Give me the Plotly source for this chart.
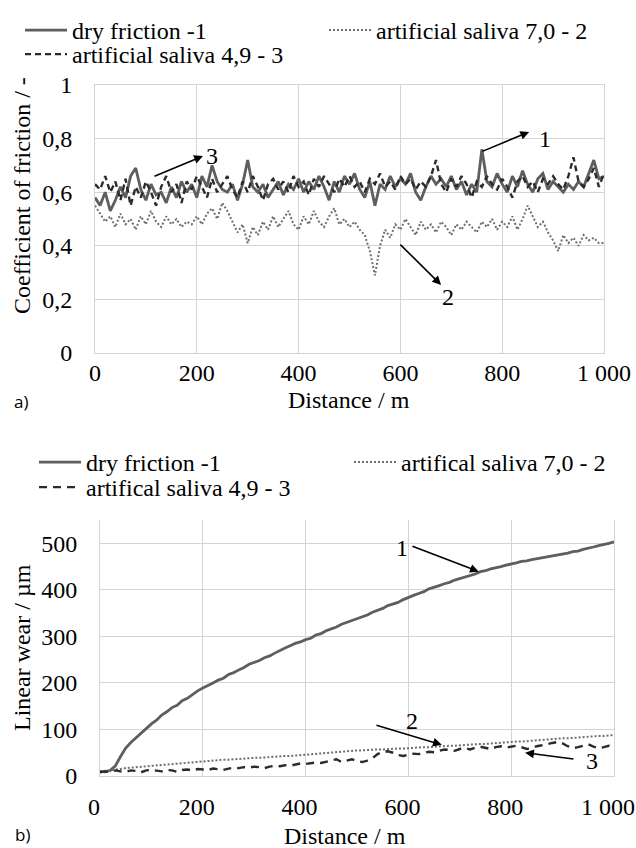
import plotly.graph_objects as go

# ---------------- data ----------------
distance = list(range(0, 1001, 10))

# a) coefficient of friction
cof_dry = [0.58, 0.55, 0.60, 0.53, 0.57, 0.62, 0.58, 0.66, 0.69, 0.61,
           0.57, 0.63, 0.59, 0.60, 0.56, 0.62, 0.58, 0.64, 0.60, 0.63,
           0.58, 0.66, 0.62, 0.70, 0.64, 0.61, 0.60, 0.63, 0.57, 0.63,
           0.72, 0.62, 0.60, 0.63, 0.58, 0.61, 0.64, 0.59, 0.63, 0.61,
           0.65, 0.60, 0.64, 0.61, 0.66, 0.62, 0.57, 0.64, 0.60, 0.66,
           0.63, 0.67, 0.61, 0.58, 0.64, 0.55, 0.63, 0.61, 0.66, 0.62,
           0.65, 0.63, 0.67, 0.60, 0.57, 0.62, 0.66, 0.63, 0.65, 0.62,
           0.66, 0.61, 0.64, 0.59, 0.63, 0.60, 0.76, 0.64, 0.62, 0.67,
           0.63, 0.60, 0.66, 0.62, 0.68, 0.63, 0.60, 0.65, 0.67, 0.61,
           0.64, 0.62, 0.60, 0.63, 0.61, 0.64, 0.62, 0.67, 0.72, 0.65, 0.66]
cof_saliva70 = [0.55, 0.52, 0.49, 0.51, 0.47, 0.52, 0.48, 0.50, 0.46, 0.51,
                0.48, 0.53, 0.49, 0.47, 0.51, 0.48, 0.50, 0.47, 0.49, 0.48,
                0.51, 0.48, 0.52, 0.54, 0.50, 0.56, 0.53, 0.49, 0.45, 0.48,
                0.41, 0.47, 0.44, 0.49, 0.46, 0.51, 0.47, 0.50, 0.53, 0.48,
                0.46, 0.51, 0.48, 0.53, 0.49, 0.47, 0.51, 0.54, 0.48, 0.50,
                0.47, 0.49, 0.46, 0.44, 0.38, 0.29, 0.40, 0.46, 0.43, 0.48,
                0.46, 0.50, 0.47, 0.44, 0.49, 0.46, 0.48, 0.45, 0.49, 0.47,
                0.44, 0.48, 0.46, 0.49, 0.47, 0.45, 0.49, 0.47, 0.50, 0.46,
                0.49, 0.47, 0.51, 0.46, 0.50, 0.55, 0.51, 0.47, 0.49, 0.45,
                0.42, 0.38, 0.44, 0.41, 0.43, 0.40, 0.44, 0.42, 0.43, 0.41, 0.41]
cof_saliva49 = [0.63, 0.61, 0.66, 0.60, 0.64, 0.57, 0.65, 0.55, 0.62, 0.58,
                0.64, 0.60, 0.55, 0.62, 0.66, 0.60, 0.63, 0.56, 0.64, 0.61,
                0.66, 0.62, 0.58, 0.65, 0.60, 0.63, 0.66, 0.61, 0.58, 0.64,
                0.60, 0.66, 0.62, 0.57, 0.63, 0.65, 0.61, 0.64, 0.60, 0.66,
                0.62, 0.64, 0.59, 0.65, 0.62, 0.66, 0.63, 0.60, 0.65, 0.62,
                0.66, 0.62, 0.64, 0.60, 0.65, 0.63, 0.67, 0.62, 0.64, 0.61,
                0.66, 0.63, 0.65, 0.61, 0.64, 0.62, 0.66, 0.72, 0.63, 0.60,
                0.65, 0.62, 0.66, 0.63, 0.58, 0.64, 0.62, 0.66, 0.63, 0.61,
                0.65, 0.62, 0.58, 0.64, 0.66, 0.62, 0.64, 0.60, 0.65, 0.63,
                0.66, 0.63, 0.61, 0.66, 0.73, 0.64, 0.62, 0.65, 0.69, 0.62, 0.67]

# b) linear wear (µm)
wear_dry = [10, 9, 12, 22, 42, 60, 72, 82, 92, 103,
            112, 120, 131, 138, 147, 152, 162, 167, 176, 183,
            189, 194, 200, 206, 210, 218, 222, 228, 233, 240,
            244, 248, 254, 258, 264, 270, 275, 280, 285, 288,
            293, 296, 303, 306, 312, 316, 320, 326, 330, 335,
            339, 343, 346, 352, 356, 360, 366, 370, 373, 379,
            384, 388, 392, 396, 402, 405, 409, 413, 416, 421,
            424, 428, 431, 434, 439, 441, 445, 447, 450, 453,
            455, 458, 461, 462, 465, 467, 469, 471, 473, 474,
            476, 479, 482, 483, 487, 489, 492, 495, 497, 500, 503]
wear_saliva70 = [10, 11, 13, 14, 15, 17, 18, 18, 20, 21,
                 22, 23, 24, 24, 26, 27, 28, 28, 30, 31,
                 32, 32, 33, 34, 35, 35, 36, 37, 37, 38,
                 39, 39, 40, 41, 41, 42, 43, 43, 44, 44,
                 45, 46, 47, 48, 49, 50, 51, 52, 53, 54,
                 55, 55, 56, 56, 57, 57, 58, 58, 59, 59,
                 60, 60, 61, 62, 62, 63, 64, 64, 65, 65,
                 66, 67, 67, 68, 69, 69, 70, 71, 71, 72,
                 73, 74, 74, 75, 76, 77, 78, 78, 79, 80,
                 81, 81, 82, 83, 84, 84, 85, 86, 86, 87, 88]
wear_saliva49 = [8, 10, 9, 12, 10, 9, 12, 11, 8, 12,
                 13, 11, 10, 13, 12, 9, 13, 14, 12, 15,
                 14, 13, 16, 15, 13, 16, 18, 17, 19, 18,
                 20, 19, 17, 20, 22, 21, 23, 22, 25, 27,
                 26, 27, 29, 28, 31, 34, 36, 30, 33, 36,
                 32, 30, 33, 38, 47, 52, 53, 50, 45, 43,
                 46, 48, 47, 50, 52, 51, 54, 57, 56, 54,
                 58, 60, 57, 61, 63, 60, 58, 62, 64, 61,
                 63, 65, 62, 58, 60, 64, 66, 69, 71, 73,
                 70, 64, 60, 62, 65, 68, 63, 60, 62, 65, 63]

x_tickvals = [0, 200, 400, 600, 800, 1000]
x_ticktext = ["0", "200", "400", "600", "800", "1 000"]
cof_tickvals = [0, 0.2, 0.4, 0.6, 0.8, 1]
cof_ticktext = ["0", "0,2", "0,4", "0,6", "0,8", "1"]
wear_tickvals = [0, 100, 200, 300, 400, 500]
wear_ticktext = ["0", "100", "200", "300", "400", "500"]

names_a = ["dry friction -1", "artificial saliva 7,0 - 2", "artificial saliva 4,9 - 3"]
names_b = ["dry friction -1", "artifical saliva 7,0 - 2", "artifical saliva 4,9 - 3"]

# ---------------- figure ----------------
W, H = 636, 848
SERIF = "Times New Roman"
FS = 24

def px_x(p):
    return p / W

def px_y(p):
    return 1 - p / H

C_DRY = "#5e5e5e"
C_S70 = "#6e6e6e"
C_S49 = "#2b2b2b"

fig = go.Figure()

fig.add_trace(go.Scatter(x=distance, y=cof_dry, mode="lines", name=names_a[0],
                         line=dict(color=C_DRY, width=2.8), xaxis="x", yaxis="y", legend="legend"))
fig.add_trace(go.Scatter(x=distance, y=cof_saliva70, mode="lines", name=names_a[1],
                         line=dict(color=C_S70, width=2, dash="2px,2px"), xaxis="x", yaxis="y", legend="legend2"))
fig.add_trace(go.Scatter(x=distance, y=cof_saliva49, mode="lines", name=names_a[2],
                         line=dict(color=C_S49, width=2.4, dash="6px,4px"), xaxis="x", yaxis="y", legend="legend3"))

fig.add_trace(go.Scatter(x=distance, y=wear_dry, mode="lines", name=names_b[0],
                         line=dict(color=C_DRY, width=2.8), xaxis="x2", yaxis="y2", legend="legend4"))
fig.add_trace(go.Scatter(x=distance, y=wear_saliva70, mode="lines", name=names_b[1],
                         line=dict(color=C_S70, width=2, dash="2px,2px"), xaxis="x2", yaxis="y2", legend="legend5"))
fig.add_trace(go.Scatter(x=distance, y=wear_saliva49, mode="lines", name=names_b[2],
                         line=dict(color=C_S49, width=2.4, dash="8px,6px"), xaxis="x2", yaxis="y2", legend="legend6"))

GRID = "#d4d4d4"

common_x = dict(range=[0, 1000], tickvals=x_tickvals, ticktext=x_ticktext, showgrid=True,
                gridcolor=GRID, gridwidth=1, zeroline=False, showline=True, linecolor=GRID,
                linewidth=1, ticks="", ticklabeloverflow="allow")
common_y = dict(showgrid=True, gridcolor=GRID, gridwidth=1, zeroline=False, showline=True,
                linecolor=GRID, linewidth=1, mirror=True, ticks="", ticklabelstandoff=17)

def leg(xp, yp):
    return dict(orientation="h", x=px_x(xp), y=px_y(yp), xanchor="left", yanchor="top",
                itemwidth=42, bgcolor="rgba(0,0,0,0)", borderwidth=0,
                itemclick=False, itemdoubleclick=False)

fig.update_layout(
    template="none",
    width=W, height=H,
    font=dict(family=SERIF, size=FS, color="black"),
    margin=dict(l=0, r=0, t=0, b=0),
    paper_bgcolor="white", plot_bgcolor="white",
    hovermode=False,
    xaxis=dict(domain=[px_x(95), px_x(604)], anchor="y", mirror=True, ticklabelstandoff=-2, **common_x),
    yaxis=dict(domain=[px_y(353), px_y(85)], anchor="x", range=[0, 1],
               tickvals=cof_tickvals, ticktext=cof_ticktext, **common_y),
    xaxis2=dict(domain=[px_x(100), px_x(614)], anchor="y2", ticklabelstandoff=9,
                ticklabelshift=-6, **common_x),
    yaxis2=dict(domain=[px_y(776), px_y(520)], anchor="x2", range=[0, 550],
                tickvals=wear_tickvals, ticktext=wear_ticktext, **common_y),
    legend=leg(20, 8),
    legend2=leg(324, 8),
    legend3=leg(20, 32),
    legend4=leg(34, 440),
    legend5=leg(349, 440),
    legend6=leg(34, 465),
    showlegend=True,
)

ann = []
mid = dict(xanchor="center", yanchor="middle", showarrow=False)
ann.append(dict(text="Coefficient of friction / -", xref="paper", yref="paper", x=px_x(22), y=px_y(196),
                textangle=-90, **mid))
ann.append(dict(text="Distance / m", xref="paper", yref="paper", x=px_x(349), y=px_y(400), **mid))
ann.append(dict(text="Linear wear / µm", xref="paper", yref="paper", x=px_x(22), y=px_y(648),
                textangle=-90, **mid))
ann.append(dict(text="Distance / m", xref="paper", yref="paper", x=px_x(345), y=px_y(836), **mid))
ann.append(dict(text="a)", xref="paper", yref="paper", x=px_x(21), y=px_y(401),
                font=dict(family="Open Sans", size=17, color="black"), **mid))
ann.append(dict(text="b)", xref="paper", yref="paper", x=px_x(22), y=px_y(834),
                font=dict(family="Open Sans", size=17, color="black"), **mid))

arrow = dict(showarrow=True, arrowhead=2, arrowsize=1.1, arrowwidth=1.6, arrowcolor="black",
             text="", axref="x", ayref="y", standoff=0, startstandoff=0)
lab = dict(showarrow=False, xanchor="center", yanchor="middle")
ann.append(dict(xref="x", yref="y", x=212, y=0.735, ax=114, ay=0.657, **arrow))
ann.append(dict(xref="x", yref="y", x=230, y=0.735, text="3", **lab))
ann.append(dict(xref="x", yref="y", x=853, y=0.825, ax=758, ay=0.75, **arrow))
ann.append(dict(xref="x", yref="y", x=885, y=0.80, text="1", **lab))
ann.append(dict(xref="x", yref="y", x=680, y=0.254, ax=597, ay=0.41, **arrow))
ann.append(dict(xref="x", yref="y", x=694, y=0.21, text="2", **lab))

arrow2 = dict(arrow)
arrow2.update(axref="x2", ayref="y2")
ann.append(dict(xref="x2", yref="y2", x=737, y=439, ax=605, ay=495, **arrow2))
ann.append(dict(xref="x2", yref="y2", x=588, y=490, text="1", **lab))
ann.append(dict(xref="x2", yref="y2", x=665, y=67, ax=535, ay=110, **arrow2))
ann.append(dict(xref="x2", yref="y2", x=607, y=118, text="2", **lab))
ann.append(dict(xref="x2", yref="y2", x=827, y=50, ax=924, ay=36, **arrow2))
ann.append(dict(xref="x2", yref="y2", x=957, y=32, text="3", **lab))

fig.update_layout(annotations=ann)

fig.write_html("out.html",
               config={"displayModeBar": False, "staticPlot": True},
               post_script="document.body.style.margin='0px';document.documentElement.style.overflow='hidden';")
